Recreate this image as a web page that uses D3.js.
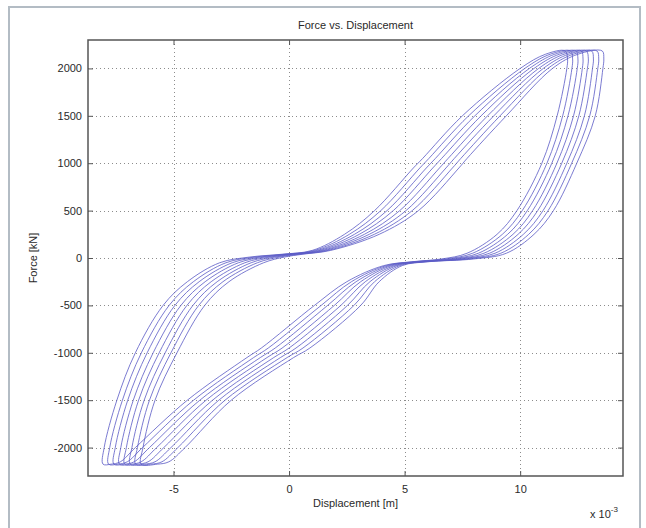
<!DOCTYPE html>
<html>
<head>
<meta charset="utf-8">
<script src="https://cdn.jsdelivr.net/npm/d3@7"></script>
<style>
  body { margin: 0; background: #fff; }
  #container text { font-family: "Liberation Sans", Arial, sans-serif; fill: #2a2a2a; }
</style>
</head>
<body>
<div id="container"></div>
<script>
// force levels along each loop path (kN): loading branch, then unloading branch
const forceLevels = [
  -2175, -2000, -1500, -1000, -500, -250, -50, 10, 40, 80, 250, 500, 950, 1050, 1500, 2000, 2150, 2185,
  2100, 2000, 1500, 1000, 500, 250, 50, -10, -40, -80, -250, -500, -950, -1050, -1500, -2000, -2150, -2175
];

// displacement of each cycle at those force levels (x 10^-3 m)
const loop1 = [-8.05, -8.00, -7.45, -6.65, -5.45, -4.40, -3.00, -1.70, -0.30, 1.00, 2.40, 3.70, 5.38, 5.78, 7.50, 10.00, 11.10, 11.95,
  12.05, 12.02, 11.60, 10.94, 9.86, 9.00, 7.70, 6.60, 5.30, 4.10, 2.50, 1.10, -1.20, -1.82, -4.40, -6.65, -7.30, -7.70];
const loop2 = [-7.81, -7.76, -7.21, -6.39, -5.19, -4.14, -2.73, -1.49, -0.17, 1.11, 2.61, 3.97, 5.66, 6.05, 7.77, 10.20, 11.30, 12.18,
  12.27, 12.24, 11.84, 11.16, 10.09, 9.23, 7.94, 6.80, 5.40, 4.21, 2.70, 1.39, -0.90, -1.53, -4.13, -6.34, -7.00, -7.41];
const loop3 = [-7.58, -7.52, -6.98, -6.14, -4.94, -3.89, -2.46, -1.27, -0.04, 1.23, 2.83, 4.24, 5.94, 6.33, 8.04, 10.40, 11.50, 12.41,
  12.50, 12.47, 12.07, 11.37, 10.31, 9.46, 8.19, 7.00, 5.50, 4.33, 2.90, 1.67, -0.60, -1.24, -3.86, -6.04, -6.70, -7.13];
const loop4 = [-7.34, -7.28, -6.74, -5.88, -4.68, -3.63, -2.19, -1.06, 0.09, 1.34, 3.04, 4.51, 6.22, 6.60, 8.31, 10.60, 11.70, 12.64,
  12.72, 12.69, 12.31, 11.59, 10.54, 9.69, 8.43, 7.20, 5.60, 4.44, 3.10, 1.96, -0.30, -0.95, -3.59, -5.73, -6.40, -6.84];
const loop5 = [-7.11, -7.04, -6.51, -5.62, -4.42, -3.37, -1.91, -0.84, 0.21, 1.46, 3.26, 4.79, 6.51, 6.88, 8.59, 10.80, 11.90, 12.86,
  12.95, 12.91, 12.54, 11.80, 10.76, 9.91, 8.67, 7.40, 5.70, 4.56, 3.30, 2.24, 0.00, -0.66, -3.31, -5.42, -6.10, -6.56];
const loop6 = [-6.87, -6.80, -6.27, -5.36, -4.16, -3.11, -1.64, -0.63, 0.34, 1.57, 3.47, 5.06, 6.79, 7.15, 8.86, 11.00, 12.10, 13.09,
  13.17, 13.13, 12.78, 12.02, 10.99, 10.14, 8.91, 7.60, 5.80, 4.67, 3.50, 2.53, 0.30, -0.37, -3.04, -5.11, -5.80, -6.27];
const loop7 = [-6.64, -6.56, -6.04, -5.11, -3.91, -2.86, -1.37, -0.41, 0.47, 1.69, 3.69, 5.33, 7.07, 7.43, 9.13, 11.20, 12.30, 13.32,
  13.40, 13.36, 13.01, 12.23, 11.21, 10.37, 9.16, 7.80, 5.90, 4.79, 3.70, 2.81, 0.60, -0.08, -2.77, -4.81, -5.50, -5.99];
const loop8 = [-6.40, -6.32, -5.80, -4.85, -3.65, -2.60, -1.10, -0.20, 0.60, 1.80, 3.90, 5.60, 7.35, 7.70, 9.40, 11.40, 12.50, 13.55,
  13.62, 13.58, 13.25, 12.45, 11.44, 10.60, 9.40, 8.00, 6.00, 4.90, 3.90, 3.10, 0.90, 0.20, -2.50, -4.50, -5.20, -5.70];

const loops = [loop1, loop2, loop3, loop4, loop5, loop6, loop7, loop8];

const xTicks = [-5, 0, 5, 10];
const yTicks = [-2000, -1500, -1000, -500, 0, 500, 1000, 1500, 2000];

const width = 646, height = 528;
const marginLeft = 88, marginRight = 23, marginTop = 40, marginBottom = 52;

const svg = d3.select("#container").append("svg")
    .attr("width", width)
    .attr("height", height)
    .attr("viewBox", [0, 0, width, height]);

// outer figure frame
svg.append("rect")
    .attr("x", 9).attr("y", 7)
    .attr("width", 631).attr("height", 530)
    .attr("fill", "none")
    .attr("stroke", "#b3bcc4")
    .attr("stroke-width", 2);

const x = d3.scaleLinear()
    .domain([-8.7, 14.45])
    .range([marginLeft, width - marginRight]);

const y = d3.scaleLinear()
    .domain([-2300, 2300])
    .range([height - marginBottom, marginTop]);

// snap to pixel so the dotted grid stays crisp
const px = v => Math.round(v) + 0.5;

const grid = svg.append("g")
    .attr("stroke", "#8c8c8c")
    .attr("stroke-width", 1)
    .attr("stroke-dasharray", "1,3");

grid.selectAll(".vx").data(xTicks).join("line")
    .attr("class", "vx")
    .attr("x1", d => px(x(d))).attr("x2", d => px(x(d)))
    .attr("y1", marginTop).attr("y2", height - marginBottom);

grid.selectAll(".hy").data(yTicks).join("line")
    .attr("class", "hy")
    .attr("x1", marginLeft).attr("x2", width - marginRight)
    .attr("y1", d => px(y(d))).attr("y2", d => px(y(d)));

// loops
const line = d3.line()
    .x(d => x(d[0]))
    .y(d => y(d[1]))
    .curve(d3.curveCatmullRomClosed.alpha(0.5));

svg.append("g")
    .attr("fill", "none")
    .attr("stroke", "#5c5cc6")
    .attr("stroke-width", 0.9)
    .attr("stroke-opacity", 0.9)
    .selectAll("path")
    .data(loops)
    .join("path")
    .attr("d", d => line(d.map((v, i) => [v, forceLevels[i]])));

// axes, ticks pointing inward like matlab
const fmt = d => String(d);

svg.append("g")
    .attr("transform", `translate(0,${height - marginBottom})`)
    .call(d3.axisBottom(x).tickValues(xTicks).tickFormat(fmt).tickSizeInner(-5).tickSizeOuter(0).tickPadding(9))
    .call(g => g.select(".domain").remove())
    .call(g => g.selectAll("text").attr("font-size", 11));

svg.append("g")
    .attr("transform", `translate(0,${marginTop})`)
    .call(d3.axisTop(x).tickValues(xTicks).tickSizeInner(-5).tickSizeOuter(0).tickFormat(""))
    .call(g => g.select(".domain").remove());

svg.append("g")
    .attr("transform", `translate(${marginLeft},0)`)
    .call(d3.axisLeft(y).tickValues(yTicks).tickFormat(fmt).tickSizeInner(-5).tickSizeOuter(0).tickPadding(6))
    .call(g => g.select(".domain").remove())
    .call(g => g.selectAll("text").attr("font-size", 11));

svg.append("g")
    .attr("transform", `translate(${width - marginRight},0)`)
    .call(d3.axisRight(y).tickValues(yTicks).tickSizeInner(-5).tickSizeOuter(0).tickFormat(""))
    .call(g => g.select(".domain").remove());

svg.selectAll(".tick line").attr("stroke", "#555");

svg.append("rect")
    .attr("x", marginLeft).attr("y", marginTop)
    .attr("width", width - marginLeft - marginRight)
    .attr("height", height - marginTop - marginBottom)
    .attr("fill", "none")
    .attr("stroke", "#555")
    .attr("stroke-width", 1.5);

// labels
const cx = (marginLeft + width - marginRight) / 2;

svg.append("text")
    .attr("x", cx).attr("y", 29)
    .attr("text-anchor", "middle")
    .attr("font-size", 11)
    .text("Force vs. Displacement");

svg.append("text")
    .attr("x", cx).attr("y", 507)
    .attr("text-anchor", "middle")
    .attr("font-size", 11)
    .text("Displacement [m]");

svg.append("text")
    .attr("transform", `translate(37,${y(0)}) rotate(-90)`)
    .attr("text-anchor", "middle")
    .attr("font-size", 11)
    .text("Force [kN]");

const mult = svg.append("text")
    .attr("x", 590).attr("y", 518)
    .attr("font-size", 11);
mult.append("tspan").text("x 10");
mult.append("tspan").attr("dy", -6).attr("font-size", 8).text("-3");
</script>
</body>
</html>
